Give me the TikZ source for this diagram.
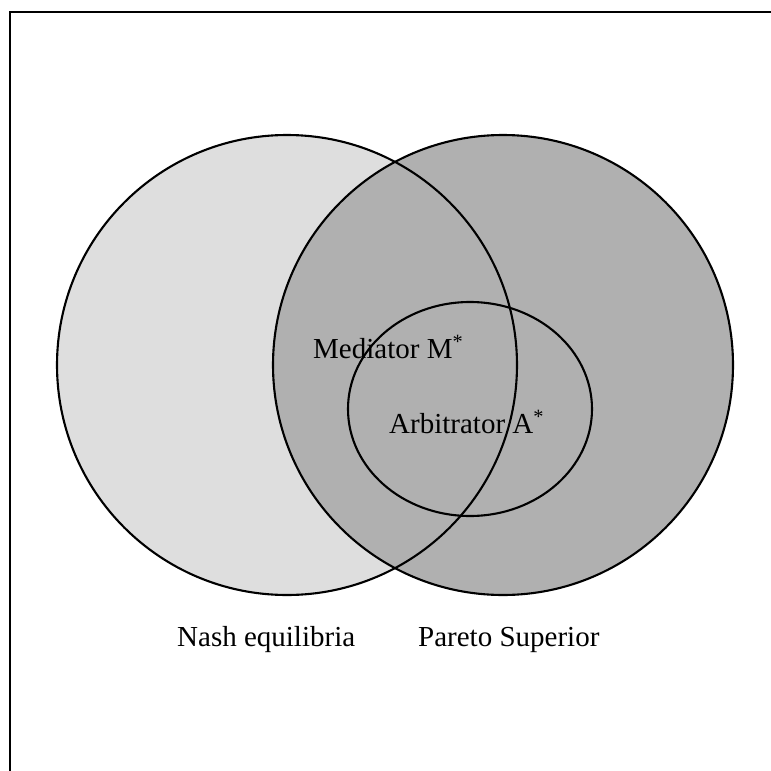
\documentclass[tikz,border=0pt]{standalone}
\usepackage{fontspec}
\setmainfont{Liberation Serif}
\usetikzlibrary{shapes.geometric}
\definecolor{lightfill}{gray}{0.87}
\definecolor{darkfill}{gray}{0.69}
\tikzset{
  setcircle/.style={circle, inner sep=0pt, outer sep=0pt, minimum size=460pt},
  subset/.style={ellipse, inner sep=0pt, outer sep=0pt, minimum width=244pt, minimum height=214pt},
  outline/.style={draw=black, line width=2.1pt},
  lbl/.style={anchor=base west, inner sep=0pt, font=\fontsize{29}{35}\selectfont},
  framerule/.style={line width=2.4pt}
}
\begin{document}
\begin{tikzpicture}[x=1pt,y=-1pt]
\useasboundingbox (0,0) rectangle (771,771);
\fill[white] (0,0) rectangle (771,771);
% frame (top and left edges only)
\coordinate (ftr) at (771,12);
\coordinate (ftl) at (10,12);
\coordinate (fbl) at (10,771);
\draw[framerule] (ftr) -- (ftl) -- (fbl);
% filled sets
\node[setcircle, fill=lightfill] (nash) at (287,365) {};
\node[setcircle, fill=darkfill] (pareto) at (503,365) {};
\node[subset, fill=darkfill] (arb) at (470,409) {};
% outlines
\node[setcircle, outline] (nasho) at (nash) {};
\node[setcircle, outline] (paretoo) at (pareto) {};
\node[subset, outline] (arbo) at (arb) {};
% labels
\node[lbl] (med) at (313,358) {Mediator M\textsuperscript{*}};
\node[lbl] (arbl) at (389,433) {Arbitrator A\textsuperscript{*}};
\node[lbl] (nashl) at (177,646) {Nash equilibria};
\node[lbl] (parl) at (418,646) {Pareto Superior};
\end{tikzpicture}
\end{document}
